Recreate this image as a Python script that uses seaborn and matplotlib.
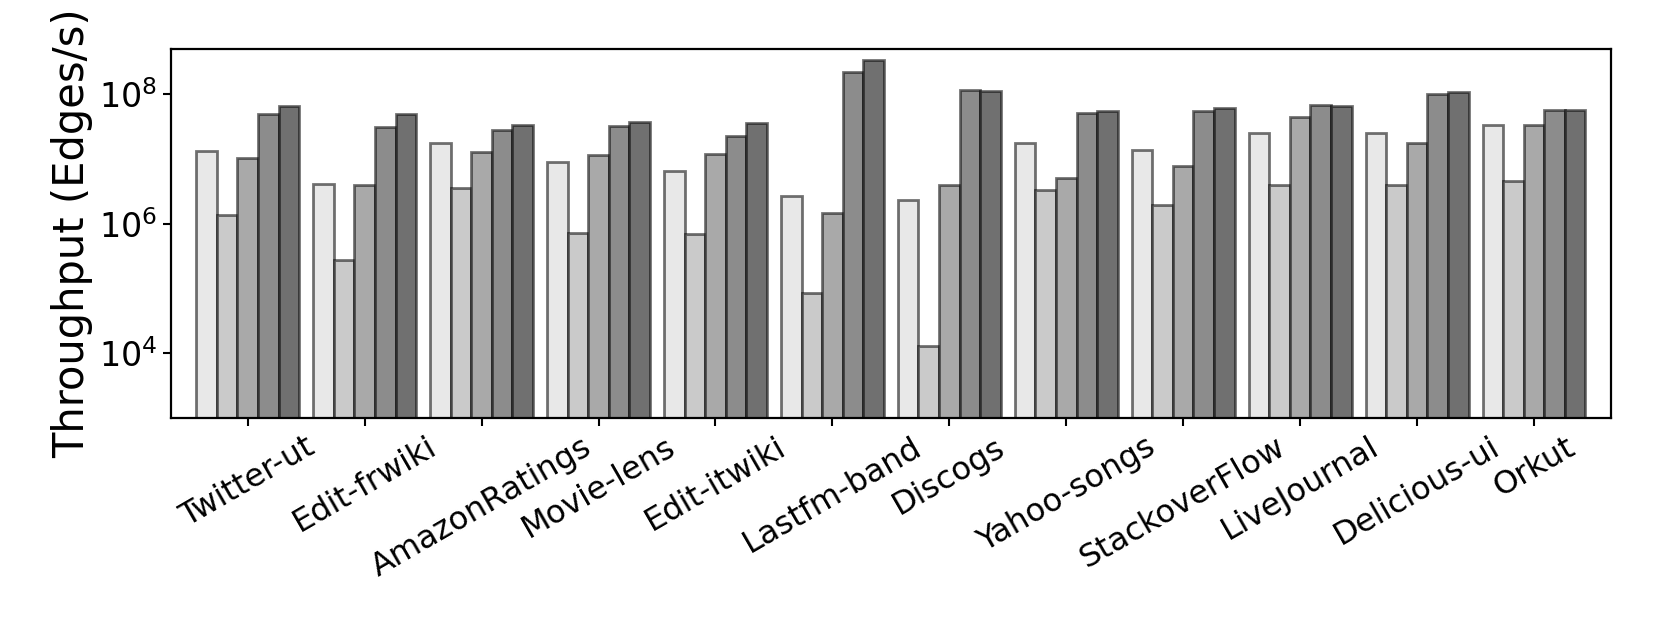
import pandas as pd
import matplotlib
matplotlib.use("Agg")
import matplotlib.pyplot as plt
import matplotlib.ticker as mticker
import seaborn as sns

# datasets on the x axis
datasets = ['Twitter-ut', 'Edit-frwiki', 'AmazonRatings', 'Movie-lens', 'Edit-itwiki',
            'Lastfm-band', 'Discogs', 'Yahoo-songs', 'StackoverFlow', 'LiveJournal',
            'Delicious-ui', 'Orkut']

# throughput (edges/s) per system
sys1 = [1.33e7, 4.1e6, 1.75e7, 9.0e6, 6.5e6, 2.7e6, 2.33e6, 1.77e7, 1.38e7, 2.47e7, 2.47e7, 3.3e7]
sys2 = [1.38e6, 2.8e5, 3.5e6, 7.2e5, 7.0e5, 8.7e4, 1.3e4, 3.3e6, 1.92e6, 3.9e6, 3.97e6, 4.5e6]
sys3 = [1.04e7, 4.0e6, 1.29e7, 1.13e7, 1.18e7, 1.47e6, 3.97e6, 5.1e6, 7.8e6, 4.5e7, 1.75e7, 3.3e7]
sys4 = [5.0e7, 3.1e7, 2.8e7, 3.25e7, 2.24e7, 2.19e8, 1.15e8, 5.1e7, 5.4e7, 6.7e7, 1.0e8, 5.6e7]
sys5 = [6.6e7, 5.0e7, 3.3e7, 3.65e7, 3.56e7, 3.4e8, 1.11e8, 5.4e7, 6.2e7, 6.5e7, 1.09e8, 5.6e7]

systems = ['S1', 'S2', 'S3', 'S4', 'S5']
grays = ['#e8e8e8', '#cacaca', '#a9a9a9', '#8c8c8c', '#707070']

rows = []
for name, vals in zip(systems, [sys1, sys2, sys3, sys4, sys5]):
    for d, v in zip(datasets, vals):
        rows.append({'Dataset': d, 'System': name, 'Throughput': v})
df = pd.DataFrame(rows)

sns.set_style("ticks", {'text.color': 'black', 'axes.labelcolor': 'black',
                        'xtick.color': 'black', 'ytick.color': 'black',
                        'axes.edgecolor': 'black'})
plt.rcParams['font.family'] = ['DejaVu Sans']

fig = plt.figure(figsize=(16.61, 6.31), dpi=100)
ax = fig.add_axes([0.1027, 0.337, 0.8673, 0.5858])

sns.barplot(data=df, x='Dataset', y='Throughput', hue='System', palette=grays,
            width=0.88, errorbar=None, legend=False, ax=ax,
            edgecolor=(0, 0, 0, 0.55), linewidth=2)

ax.set_yscale('log')
ax.set_ylim(1e3, 5e8)
ax.set_xlim(-0.66, 11.66)
ax.yaxis.set_major_locator(mticker.FixedLocator([1e4, 1e6, 1e8]))
ax.yaxis.set_minor_locator(mticker.NullLocator())

ax.set_xlabel('')
ax.set_ylabel('Throughput (Edges/s)', fontsize=30)
ax.tick_params(axis='x', labelsize=23, length=6, width=1.5)
ax.tick_params(axis='y', labelsize=24, length=6, width=1.5)
plt.setp(ax.get_xticklabels(), rotation=30, ha='center')
for s in ax.spines.values():
    s.set_linewidth(1.6)
    s.set_visible(True)

fig.savefig('out.png', dpi=100)
